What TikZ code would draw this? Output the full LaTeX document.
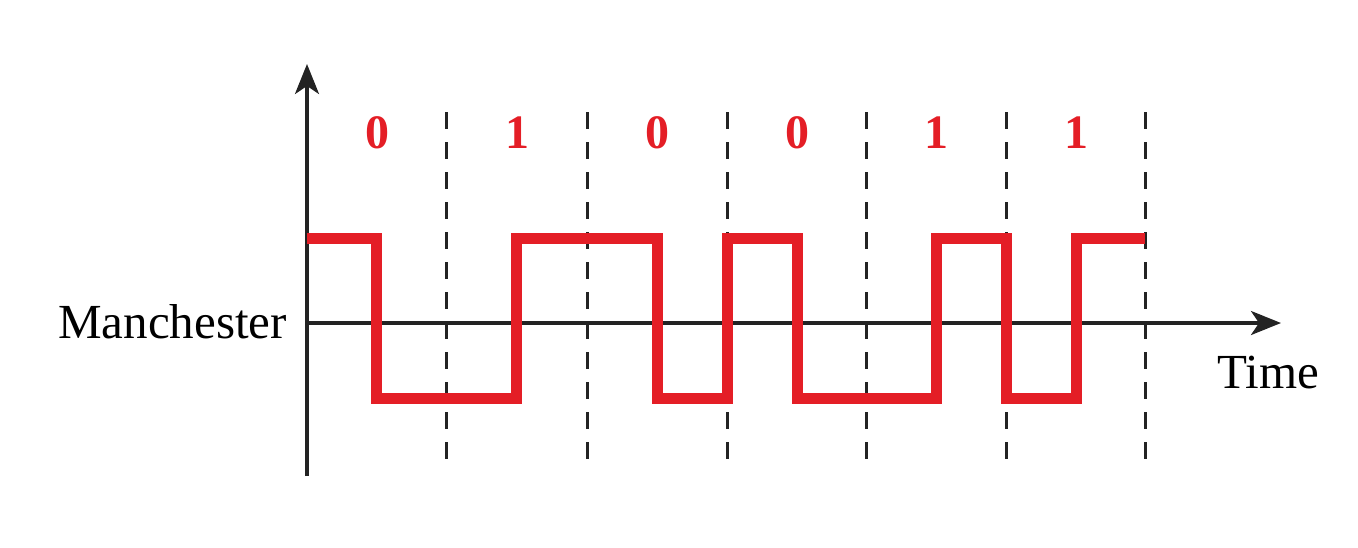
\documentclass[tikz,border=0pt]{standalone}
\usepackage{fontspec}
\setmainfont{Liberation Serif}
\usetikzlibrary{arrows.meta}
\definecolor{sigred}{RGB}{228,30,38}
\definecolor{axisgray}{RGB}{35,35,35}
\tikzset{
  axis/.style={draw=axisgray,line width=3.4pt,-{Stealth[length=30pt,width=24pt,inset=8pt]}},
  boundary/.style={draw=axisgray,line width=3pt,dash pattern=on 17pt off 13pt},
  signal/.style={draw=sigred,line width=11pt,line join=miter,line cap=butt},
  bitlabel/.style={text=sigred,font=\fontsize{48}{50}\selectfont\bfseries,anchor=base,inner sep=0pt},
  axislabel/.style={font=\fontsize{49}{52}\selectfont,inner sep=0pt}
}
\begin{document}
\begin{tikzpicture}[x=1pt,y=-1pt]
\useasboundingbox (0,0) rectangle (1358,547);
% axes
\coordinate (o) at (307,323);
\coordinate (ybot) at (307,476);
\coordinate (ytop) at (307,64);
\coordinate (xend) at (1281,323);
\draw[axis] (ybot) -- (ytop);
\draw[axis] (o) -- (xend);
% bit boundaries
\foreach \x/\n in {446/b1,587/b2,727/b3,866/b4,1006/b5,1145/b6}{
  \coordinate (\n t) at (\x,112);
  \coordinate (\n b) at (\x,470);
  \draw[boundary] (\n t) -- (\n b);
}
% bit labels
\foreach \x/\b/\n in {377/0/l1,517/1/l2,657/0/l3,797/0/l4,936/1/l5,1076/1/l6}{
  \node[bitlabel] (\n) at (\x,148) {\b};
}
% Manchester signal
\draw[signal] (307,238) -- (376,238) -- (376,398) -- (516,398) -- (516,238)
  -- (657,238) -- (657,398) -- (727,398) -- (727,238) -- (797,238)
  -- (797,398) -- (936,398) -- (936,238) -- (1006,238) -- (1006,398)
  -- (1076,398) -- (1076,238) -- (1145,238);
% labels
\node[axislabel,anchor=base east] (manch) at (287,338) {Manchester};
\node[axislabel,anchor=base west] (time) at (1217,388) {Time};
\end{tikzpicture}
\end{document}
